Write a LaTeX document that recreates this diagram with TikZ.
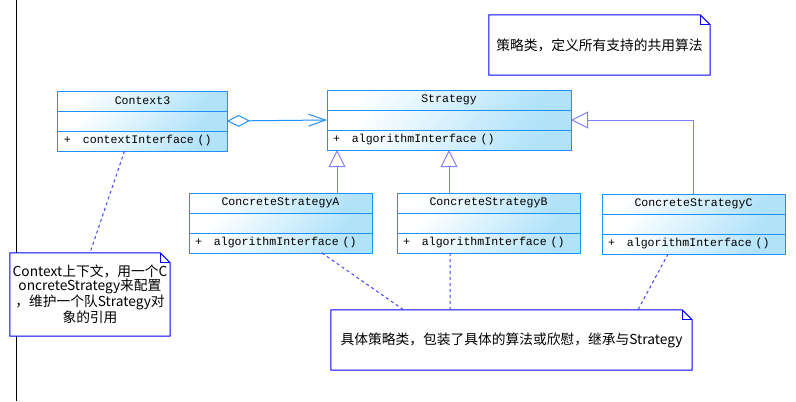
\documentclass[tikz,border=0pt]{standalone}
\usepackage{fontspec}
\newfontfamily\cjk{Noto Sans CJK SC}
\newfontfamily\clsfont{Liberation Mono}
\usetikzlibrary{arrows.meta,positioning}

\definecolor{clsline}{RGB}{30,144,255}
\definecolor{clsfill}{RGB}{176,226,250}
\definecolor{genline}{RGB}{128,128,255}
\definecolor{noteline}{RGB}{0,0,255}
\definecolor{dashline}{RGB}{64,64,255}

\begin{document}
\begin{tikzpicture}
        [
            x=1bp, y=-1bp,
            row/.style = {
                rectangle,
                draw=clsline,
                line width=1bp,
                top color=white,
                bottom color=clsfill,
                shading angle=45,
                minimum height=20bp,
                inner sep=0pt,
                outer sep=0pt,
                font=\clsfont\fontsize{11.6}{13}\selectfont
            },
            title/.style = {
                row,
                minimum width=#1
            },
            ops/.style = {
                row,
                text width=#1,
                inner xsep=6bp,
                align=left
            },
            note/.style = {
                rectangle,
                fill=white,
                inner sep=0pt,
                align=center,
                font=\cjk\fontsize{13.8}{13}\selectfont
            },
            notebox/.style = {
                draw=noteline,
                line width=1bp
            },
            agg/.style = {
                draw=clsline,
                line width=1bp,
                {Diamond[open,length=23bp,width=12bp]}-{Straight Barb[length=17bp,width=12bp]}
            },
            gen/.style = {
                draw=genline,
                line width=1bp,
                -{Triangle[open,length=17bp,width=17bp]}
            },
            anchorline/.style = {
                draw=dashline,
                line width=1bp,
                dash pattern=on 3bp off 3bp
            }
        ]

        \useasboundingbox (0,0) rectangle (796,401);
        \draw[line width=1bp] (16,0) -- (16,401);

        % classes
        \node[title=169bp] (ctx) at (142.5,101) {Context3};
        \node[title=169bp,below=0pt of ctx] (ctx-attr) {};
        \node[ops=157bp,below=0pt of ctx-attr] (ctx-ops) {+\hspace{12bp}contextInterface ()};

        \node[title=244bp] (strat) at (449,100) {Strategy};
        \node[title=244bp,below=0pt of strat] (strat-attr) {};
        \node[ops=232bp,below=0pt of strat-attr] (strat-ops) {+\hspace{12bp}algorithmInterface ()};

        \node[title=183bp] (conc-a) at (280.5,203) {ConcreteStrategyA};
        \node[title=183bp,below=0pt of conc-a] (conc-a-attr) {};
        \node[ops=171bp,below=0pt of conc-a-attr] (conc-a-ops) {+\hspace{12bp}algorithmInterface ()};

        \node[title=183bp] (conc-b) at (488.5,203) {ConcreteStrategyB};
        \node[title=183bp,below=0pt of conc-b] (conc-b-attr) {};
        \node[ops=171bp,below=0pt of conc-b-attr] (conc-b-ops) {+\hspace{12bp}algorithmInterface ()};

        \node[title=183bp] (conc-c) at (693.5,204) {ConcreteStrategyC};
        \node[title=183bp,below=0pt of conc-c] (conc-c-attr) {};
        \node[ops=171bp,below=0pt of conc-c-attr] (conc-c-ops) {+\hspace{12bp}algorithmInterface ()};

        % notes
        \node[note,minimum width=221bp,minimum height=60bp] (stratnote) at (599.5,45) {策略类，定义所有支持的共用算法};
        \node[note,minimum width=160bp,minimum height=83bp] (ctxnote) at (90,294.5)
            {Context上下文，用一个C\\oncreteStrategy来配置\\，维护一个队Strategy对\\象的引用};
        \node[note,minimum width=361bp,minimum height=60bp] (concnote) at (511.5,340)
            {具体策略类，包装了具体的算法或欣慰，继承与Strategy};

        \foreach \n in {stratnote,ctxnote,concnote} {
            \path[notebox] (\n.north west) -- ([xshift=-10bp]\n.north east)
                -- ([yshift=-10bp]\n.north east) -- (\n.south east) -- (\n.south west) -- cycle;
            \path[notebox] ([xshift=-10bp]\n.north east) |- ([yshift=-10bp]\n.north east);
        }

        % relations
        \coordinate (conc-a-up) at ([xshift=56.5bp]conc-a.north);

        \path[agg] (ctx-attr.east) -- (strat-attr.west);
        \path[gen] (conc-a-up) -- (conc-a-up |- strat-ops.south);
        \path[gen] (strat-ops.south |- conc-b.north) -- (strat-ops.south);
        \path[gen] (conc-c.north) |- (strat-attr.east);

        \path[anchorline] ([xshift=-18bp]ctx-ops.south) -- (ctxnote.north);
        \path[anchorline] ([xshift=41.5bp]conc-a-ops.south) -- ([xshift=-108bp]concnote.north);
        \path[anchorline] ([xshift=-38.5bp]conc-b-ops.south) -- ([xshift=-61.5bp]concnote.north);
        \path[anchorline] ([xshift=-25.5bp]conc-c-ops.south) -- ([xshift=126.5bp]concnote.north);
    \end{tikzpicture}
\end{document}
